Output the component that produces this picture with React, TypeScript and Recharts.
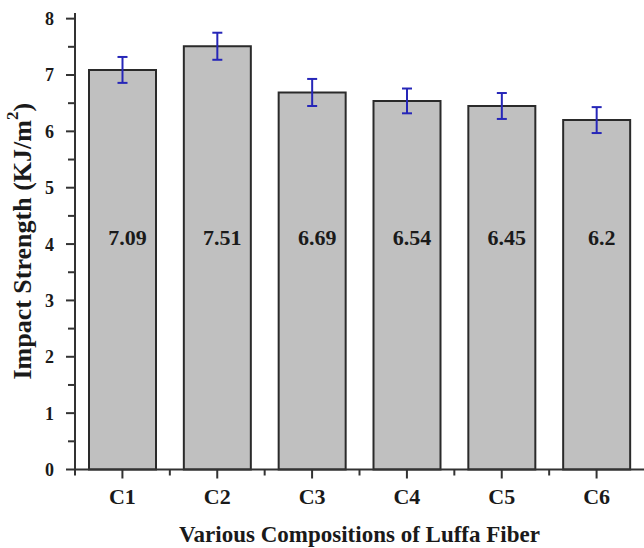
import React from 'react';
import { BarChart, Bar, XAxis, YAxis, ErrorBar, LabelList, Label } from 'recharts';

const compositions = ['C1', 'C2', 'C3', 'C4', 'C5', 'C6'];
const impactStrength = [7.09, 7.51, 6.69, 6.54, 6.45, 6.2];
const strengthError = [0.23, 0.24, 0.24, 0.22, 0.23, 0.23];
const yTicks = [0, 0.5, 1, 1.5, 2, 2.5, 3, 3.5, 4, 4.5, 5, 5.5, 6, 6.5, 7, 7.5, 8];

const data = compositions.map((name, i) => ({
  name,
  value: impactStrength[i],
  err: strengthError[i],
}));

const FONT = '"Liberation Serif", "Times New Roman", serif';
const WIDTH = 644;
const HEIGHT = 548;
const LEFT = 75;
const BAND = (WIDTH - LEFT) / compositions.length;
const LABEL_LEVEL = 4.12; // value labels sit around this height inside each bar

const YTick = ({ x, y, payload }: any) => {
  const major = Number.isInteger(payload.value);
  return (
    <g>
      <line x1={x - (major ? 9 : 7)} y1={y} x2={x} y2={y} stroke="#333" strokeWidth={2} />
      {major && (
        <text x={x - 21} y={y + 6.5} textAnchor="end" fontFamily={FONT} fontWeight="bold" fontSize={18} fill="#1a1a1a">
          {payload.value}
        </text>
      )}
    </g>
  );
};

const XTick = ({ x, y, payload }: any) => (
  <g>
    <line x1={x} y1={y} x2={x} y2={y + 9} stroke="#333" strokeWidth={2} />
    <line x1={x - BAND / 2} y1={y} x2={x - BAND / 2} y2={y + 6} stroke="#333" strokeWidth={2} />
    <text x={x} y={y + 34} textAnchor="middle" fontFamily={FONT} fontWeight="bold" fontSize={22} fill="#1a1a1a">
      {payload.value}
    </text>
  </g>
);

const YTitle = ({ viewBox }: any) => {
  const cx = 22;
  const cy = viewBox.y + viewBox.height / 2;
  return (
    <text
      x={cx}
      y={cy}
      transform={`rotate(-90 ${cx} ${cy})`}
      textAnchor="middle"
      dominantBaseline="central"
      fontFamily={FONT}
      fontWeight="bold"
      fontSize={26}
      fill="#1a1a1a"
    >
      Impact Strength (KJ/m
      <tspan fontSize={17} dy={-10}>2</tspan>
      <tspan dy={10}>)</tspan>
    </text>
  );
};

const ValueLabel = ({ x, y, width, height, value }: any) => {
  const bottom = y + height;
  const ly = bottom - (LABEL_LEVEL / value) * height;
  return (
    <text x={x + width / 2 + 5} y={ly + 7.5} textAnchor="middle" fontFamily={FONT} fontWeight="bold" fontSize={22} fill="#1a1a1a">
      {value}
    </text>
  );
};

export default function App() {
  return (
    <div style={{ position: 'absolute', left: 0, top: 0, background: '#fff' }}>
      <BarChart width={WIDTH} height={HEIGHT} data={data} margin={{ top: 13, right: 0, bottom: 0, left: 0 }}>
        <XAxis
          dataKey="name"
          height={78.5}
          tickSize={0}
          tickMargin={0}
          tickLine={false}
          tick={<XTick />}
          axisLine={{ stroke: '#333', strokeWidth: 2 }}
          interval={0}
        >
          <Label
            value="Various Compositions of Luffa Fiber"
            position="insideBottom"
            offset={6}
            style={{ fontFamily: FONT, fontWeight: 'bold', fontSize: 23, fill: '#1a1a1a' }}
          />
        </XAxis>
        <YAxis
          width={LEFT}
          domain={[0, 8.1]}
          ticks={yTicks}
          interval={0}
          tickSize={0}
          tickMargin={0}
          tickLine={false}
          tick={<YTick />}
          axisLine={{ stroke: '#333', strokeWidth: 2 }}
        >
          <Label content={<YTitle />} />
        </YAxis>
        <Bar dataKey="value" fill="#c0c0c0" stroke="#2a2a2a" strokeWidth={2} barSize={67} isAnimationActive={false}>
          <ErrorBar dataKey="err" width={5} stroke="#2626b8" strokeWidth={2} />
          <LabelList dataKey="value" content={<ValueLabel />} />
        </Bar>
      </BarChart>
    </div>
  );
}
